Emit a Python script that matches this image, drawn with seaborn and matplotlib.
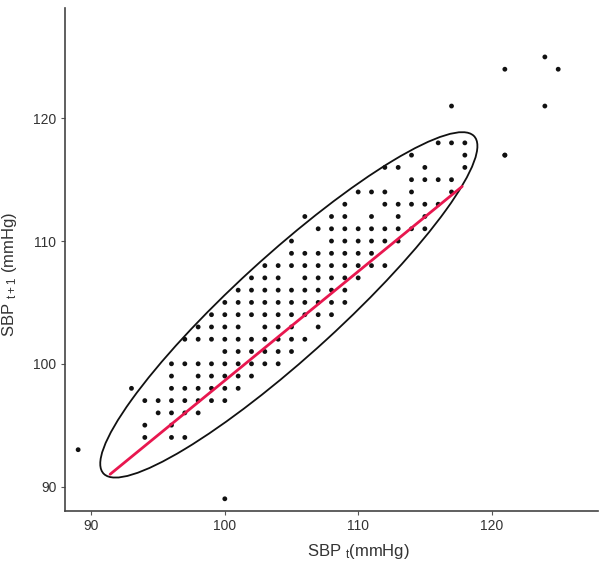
import numpy as np
import pandas as pd
import matplotlib
matplotlib.use("Agg")
import matplotlib.pyplot as plt
from matplotlib.patches import Ellipse
import seaborn as sns

# Systolic blood pressure at visit t (x) and at visit t+1 (y), mmHg
sbp_t = [
    116, 117, 118,
    114, 118, 121, 121,
    112, 113, 115, 118,
    114, 115, 116, 117,
    110, 111, 112, 114, 117,
    109, 112, 113, 114, 115, 116,
    106, 108, 109, 111, 113, 115,
    107, 108, 109, 110, 111, 112, 113, 114, 115,
    105, 108, 109, 110, 111, 112, 113,
    105, 106, 107, 108, 109, 110, 111,
    103, 104, 105, 106, 107, 108, 109, 110, 111, 112,
    102, 103, 104, 106, 107, 108, 109, 110,
    101, 102, 103, 104, 105, 106, 107, 108, 109,
    100, 101, 102, 103, 104, 105, 106, 107, 108, 109,
    99, 100, 101, 102, 103, 104, 105, 106, 107, 108,
    98, 99, 100, 101, 103, 104, 105, 107,
    97, 98, 99, 100, 101, 102, 103, 104, 105, 106,
    100, 101, 102, 103, 104, 105,
    96, 97, 98, 99, 100, 101, 102, 103, 104,
    96, 98, 99, 100, 101, 102,
    93, 96, 97, 98, 99, 100, 101,
    94, 95, 96, 97, 98, 99, 100,
    95, 96, 97, 98,
    94, 96,
    94, 96, 97,
    89, 100,
    117, 121, 124, 125, 124,
]
sbp_t1 = [
    118, 118, 118,
    117, 117, 117, 117,
    116, 116, 116, 116,
    115, 115, 115, 115,
    114, 114, 114, 114, 114,
    113, 113, 113, 113, 113, 113,
    112, 112, 112, 112, 112, 112,
    111, 111, 111, 111, 111, 111, 111, 111, 111,
    110, 110, 110, 110, 110, 110, 110,
    109, 109, 109, 109, 109, 109, 109,
    108, 108, 108, 108, 108, 108, 108, 108, 108, 108,
    107, 107, 107, 107, 107, 107, 107, 107,
    106, 106, 106, 106, 106, 106, 106, 106, 106,
    105, 105, 105, 105, 105, 105, 105, 105, 105, 105,
    104, 104, 104, 104, 104, 104, 104, 104, 104, 104,
    103, 103, 103, 103, 103, 103, 103, 103,
    102, 102, 102, 102, 102, 102, 102, 102, 102, 102,
    101, 101, 101, 101, 101, 101,
    100, 100, 100, 100, 100, 100, 100, 100, 100,
    99, 99, 99, 99, 99, 99,
    98, 98, 98, 98, 98, 98, 98,
    97, 97, 97, 97, 97, 97, 97,
    96, 96, 96, 96,
    95, 95,
    94, 94, 94,
    93, 89,
    121, 124, 125, 124, 121,
]

# Fitted line endpoints (mmHg)
fit_x = [91.4, 117.8]
fit_y = [91.0, 114.45]

ticks = [90, 100, 110, 120]

df = pd.DataFrame({"sbp_t": sbp_t, "sbp_t1": sbp_t1})

sns.set_theme(style="white")
plt.rcParams["font.family"] = ["Liberation Sans", "DejaVu Sans"]
plt.rcParams["mathtext.default"] = "regular"

fig = plt.figure(figsize=(6.0, 5.61), dpi=100)
ax = fig.add_axes([0.108, 0.089, 0.889, 0.897])

sns.scatterplot(data=df, x="sbp_t", y="sbp_t1", ax=ax, color="#111111",
                s=12, edgecolor="none", zorder=3)

# Concentration ellipse around the point cloud
center = (104.8, 104.8)
cov = np.array([[200.0, 183.0], [183.0, 198.0]])
vals, vecs = np.linalg.eigh(cov)
angle = np.degrees(np.arctan2(vecs[1, 1], vecs[0, 1]))
ell = Ellipse(center, width=2 * np.sqrt(vals[1]), height=2 * np.sqrt(vals[0]),
              angle=angle, fill=False, edgecolor="#111111", linewidth=1.3,
              zorder=2)
ax.add_patch(ell)

sns.lineplot(x=fit_x, y=fit_y, ax=ax, color="#e8174f", linewidth=2.0,
             estimator=None, zorder=4)

ax.set_xlim(88, 128)
ax.set_ylim(88, 129)
ax.set_xticks(ticks)
ax.set_yticks(ticks)
ax.tick_params(axis="both", which="both", direction="out", length=3, width=0.8,
               color="#555555", labelsize=10, labelcolor="#333333", pad=3,
               bottom=True, left=True)

for side in ["top", "right"]:
    ax.spines[side].set_visible(False)
for side in ["left", "bottom"]:
    ax.spines[side].set_color("#444444")
    ax.spines[side].set_linewidth(1.2)

ax.set_xlabel(r"SBP $_{t}$(mmHg)", fontsize=12, color="#333333")
ax.set_ylabel(r"SBP $_{t+1}$ (mmHg)", fontsize=12, color="#333333")
ax.xaxis.set_label_coords(0.55, -0.062)
ax.yaxis.set_label_coords(-0.085, 0.47)

fig.savefig("out.png", dpi=100, facecolor="white")
